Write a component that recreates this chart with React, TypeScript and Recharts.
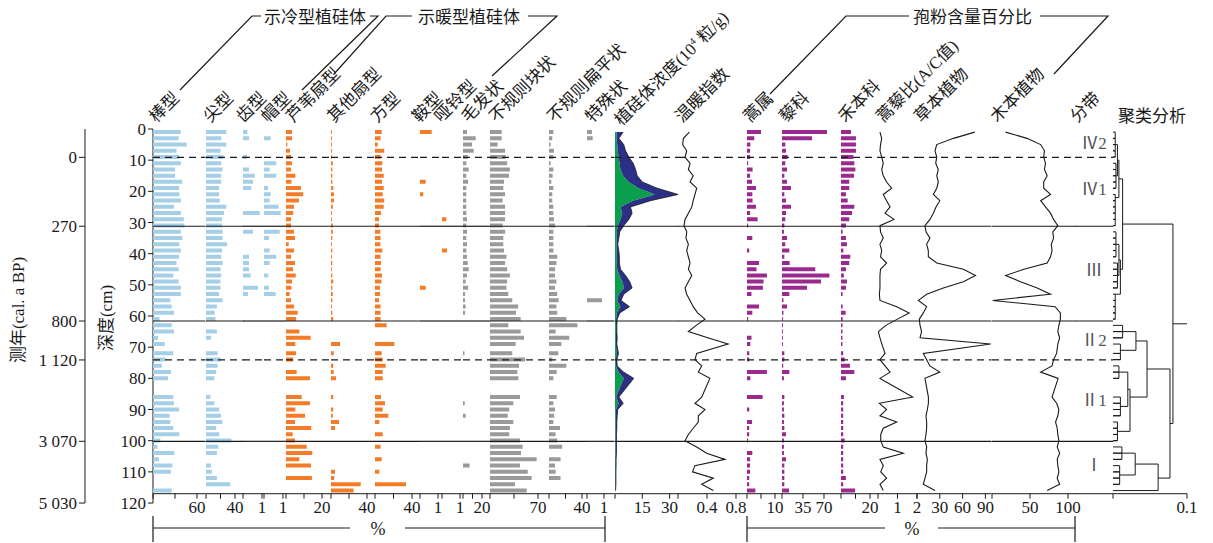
import React from 'react';
import { ComposedChart, Bar, Line, Area, Scatter, XAxis, YAxis, ReferenceLine } from 'recharts';

// sample depths (cm)
const depths = [1, 3, 5, 7, 9, 11, 13, 15, 17, 19, 21, 23, 25, 27, 29, 31, 33, 35, 37, 39, 41, 43, 45, 47, 49, 51, 53, 55, 57, 59, 61, 63, 65, 67, 69, 72, 74, 76, 78, 80, 86, 88, 90, 92, 94, 96, 98, 100, 102, 104, 106, 108, 110, 112, 114, 116];

// phytolith percentages
const rod = [37.8, 35, 46, 32, 36, 38, 30, 30, 40, 35.5, 36, 38, 28.6, 38, 42, 43, 38, 40, 36, 38, 35.5, 32, 35, 27.6, 35, 38, 38, 23.7, 25.5, 28.6, 9, 25.5, 28.6, 7, 16, 27.6, 17, 12, 24.5, 20.5, 27.6, 28.6, 35.5, 22.7, 23.7, 27.6, 36, 10, 6, 29, 8, 26.5, 24.5, 0, 0, 25.5];
const pointed = [28, 21, 28, 20, 24, 21, 23, 21, 21, 18, 18, 19, 28, 25, 22, 22, 23, 23, 29, 22, 21, 23, 20, 21, 20, 20, 18, 23, 15, 12, 13, 0, 15, 7, 0, 16, 20, 16, 14, 11.5, 6, 11.5, 18.3, 20.7, 22.5, 14, 18.3, 35, 17, 15, 0, 7, 8, 15, 33.5, 0];
const tooth = [6, 8.2, 0, 0, 5.5, 0, 8.2, 16, 13.7, 11.5, 0, 0, 0, 22.9, 0, 0, 13.7, 0, 0, 0, 8.2, 8.2, 8.2, 10.5, 0, 20.5, 6.8, 0, 0, 0, 0, 0, 0, 0, 0, 0, 0, 0, 0, 0, 0, 0, 0, 0, 0, 0, 0, 0, 0, 0, 0, 0, 0, 0, 0, 0];
const hat = [0, 9.2, 0, 0, 0, 16.8, 7.8, 16.8, 0, 5.5, 9.2, 7.8, 20, 22.9, 0, 0, 21.5, 6.8, 0, 7.8, 16.8, 7.8, 0, 5.9, 0, 6.8, 16, 0, 0, 0, 0, 0, 0, 0, 0, 0, 0, 0, 0, 0, 0, 0, 0, 0, 0, 0, 0, 0, 0, 0, 0, 0, 0, 0, 0, 0];
const reedFan = [3.3, 3.3, 0.7, 2.2, 2.8, 3.3, 2.8, 5.2, 3, 8.3, 9.6, 7.2, 4.4, 4, 2.8, 2.8, 4.4, 5, 1.5, 4.4, 2.8, 5, 3.9, 5.4, 3.3, 3, 2, 2.8, 4.4, 6.5, 5.6, 0, 7.4, 13.7, 5.2, 5.6, 4, 0, 5.9, 13.3, 8.7, 13.3, 5.2, 10.6, 5, 14, 3.7, 5, 11.5, 14.6, 7.4, 13.9, 0, 14.4, 0, 0];
const otherFan = [1, 1, 1, 1, 1, 2, 1.5, 1.5, 1.5, 2.6, 3.3, 3.3, 2, 1, 1, 2, 2, 1.5, 1, 1.5, 1, 1.5, 1, 1.5, 2.5, 1.5, 2, 1.5, 1, 1.5, 2.5, 0, 0, 0, 10, 3, 0, 2.5, 3, 5.5, 2.5, 0, 2.5, 2, 9, 4.4, 0, 0, 0, 0, 0, 0, 4.4, 3.5, 33, 25];
const square = [7.2, 6, 2.9, 10, 6, 7.9, 7.6, 9.4, 7.6, 9.4, 8.3, 10, 9.4, 6.5, 4.3, 4.3, 5.8, 6, 5.8, 7.9, 6, 6.5, 6, 7.6, 7, 5.4, 5.4, 4.3, 6, 6, 6, 12.6, 0, 0, 21, 7.2, 8.3, 11.5, 8.3, 8.3, 6.5, 10.8, 8.3, 14.4, 4.7, 0, 8.3, 0, 6, 0, 7.2, 0, 4.7, 0, 33.5, 0];
const saddle = [16, 0, 0, 0, 0, 0, 0, 0, 7.8, 0, 4.5, 0, 0, 0, 0, 0, 0, 0, 0, 0, 0, 0, 0, 0, 0, 7.8, 0, 0, 0, 0, 0, 0, 0, 0, 0, 0, 0, 0, 0, 0, 0, 0, 0, 0, 0, 0, 0, 0, 0, 0, 0, 0, 0, 0, 0, 0];
const dumbbell = [0, 0, 0, 0, 0, 0, 0, 0, 0, 0, 0, 0, 0, 0, 6, 0, 0, 0, 0, 6.8, 0, 0, 0, 0, 0, 0, 0, 0, 0, 0, 0, 0, 0, 0, 0, 0, 0, 0, 0, 0, 0, 0, 0, 0, 0, 0, 0, 0, 0, 0, 0, 0, 0, 0, 0, 0];
const hair = [4.2, 13.4, 9.5, 11.3, 5, 3.5, 6, 3.5, 5.4, 3.5, 3.5, 3.5, 3.5, 3.5, 4.2, 3.5, 4.2, 3.5, 4.2, 3.5, 4.2, 5, 6, 4.2, 2.8, 5.4, 2.2, 2.2, 2.8, 2.2, 0, 0, 0, 0, 0, 1.5, 0, 0, 0, 0, 0, 1.8, 0, 2.8, 0, 0, 0, 0, 0, 0, 0, 7, 0, 0, 0, 0];
const blocky = [17, 17, 11, 22, 23, 25, 29, 27.7, 20.4, 19.4, 22, 18.5, 22, 22, 22, 18.5, 22, 19.4, 19.4, 20.4, 24, 22, 25, 29, 25, 24, 26.7, 32.5, 41, 37.9, 44.7, 26.7, 44.7, 49.6, 37.4, 32.5, 51, 42.3, 39.8, 41.3, 43.7, 34, 28, 25.7, 34, 29, 28, 43.7, 47.6, 45.2, 68, 43.7, 55, 60.7, 36.4, 53.5];
const flat = [5.3, 4, 2, 6, 5.3, 2, 5.3, 4.4, 2.8, 5.3, 4, 4, 5.3, 5.3, 6, 7.3, 5.3, 5.3, 5.3, 5.3, 10, 9, 7.3, 7.3, 9, 7.3, 10, 11.7, 9, 10, 21, 34.4, 8, 24.6, 15, 11.3, 4, 21, 9.3, 5.3, 9.3, 5.3, 7.3, 6.3, 5.3, 13.3, 8, 10, 16, 0, 14, 7.3, 8, 14, 0, 0];
const special = [6.8, 7.8, 0, 0, 0, 0, 0, 0, 0, 0, 0, 0, 0, 0, 0, 0, 0, 0, 0, 0, 0, 0, 0, 0, 0, 0, 0, 20.5, 0, 0, 0, 0, 0, 0, 0, 0, 0, 0, 0, 0, 0, 0, 0, 0, 0, 0, 0, 0, 0, 0, 0, 0, 0, 0, 0, 0];

// phytolith concentration (10^4 grains/g)
const concTotal = [4.5, 2.1, 4.8, 5.8, 7.6, 10, 11.3, 12.2, 15, 23.2, 34.7, 19.5, 8.5, 9.4, 7.6, 4.8, 2.6, 2.1, 1.5, 2.1, 2.4, 2.4, 3, 5.8, 8.1, 9.4, 4.8, 3.3, 8, 2.6, 1.2, 1, 1, 1.2, 1, 1.9, 1, 1.2, 4.8, 10.3, 2.1, 4.5, 1.5, 1.2, 1, 1, 0.8, 0.8, 0.8, 0.8, 0.6, 0.6, 0.5, 0.5, 0.5, 0.3];
const concGreen = [1, 0.8, 1.2, 1.5, 2, 2.5, 3, 4.5, 7.5, 13, 22, 10, 3, 4, 3, 1.5, 1, 1, 0.8, 1, 1, 1, 1.2, 2.5, 4, 5, 2, 1.2, 3, 1, 0.6, 0.5, 0.5, 0.5, 0.5, 0.8, 0.5, 0.5, 2, 4.8, 0.6, 2, 0.5, 0.4, 0.4, 0.4, 0.3, 0.3, 0.3, 0.3, 0.3, 0.3, 0.3, 0.3, 0.3, 0.2];
const warmIndex = [0.157, 0.074, 0.064, 0.12, 0.097, 0.166, 0.143, 0.21, 0.166, 0.258, 0.234, 0.21, 0.19, 0.143, 0.097, 0.083, 0.12, 0.11, 0.143, 0.12, 0.143, 0.166, 0.143, 0.19, 0.143, 0.097, 0.12, 0.166, 0.21, 0.27, 0.372, 0.25, 0.143, 0.41, 0.69, 0.258, 0.234, 0.327, 0.28, 0.44, 0.327, 0.234, 0.372, 0.28, 0.28, 0.21, 0.143, 0.097, 0.258, 0.395, 0.648, 0.234, 0.2, 0.487, 0.327, 0.487];

// pollen percentages
const artemisia = [5, 2.6, 1.2, 1.1, 1.1, 0.4, 2, 1.1, 1.8, 3.2, 1.9, 2, 3.2, 1.1, 3.8, 0.4, 0, 1.9, 0, 0.8, 0, 4.3, 3.4, 7.1, 5.9, 5.7, 1.6, 0, 4.3, 1.9, 0.4, 0, 0, 1.6, 1.2, 0.8, 0.8, 0, 7.1, 1.2, 5.6, 0, 0.8, 0, 1.8, 0.8, 0.8, 0.4, 0, 1.9, 1.1, 1.1, 1.1, 0.8, 0.8, 3];
const chenopod = [75, 50, 5.5, 6.7, 9.4, 5.5, 8.3, 3.9, 8.3, 15, 3.9, 6.7, 15, 6.7, 5.5, 3.9, 3.2, 8.3, 5.5, 12.2, 3.9, 12.8, 55.5, 79, 65, 41.7, 12.2, 2.4, 8.3, 2.4, 1.5, 1.5, 1.5, 1.5, 1.5, 3.9, 3.9, 2, 12.2, 3.2, 3.9, 3.2, 3.2, 3.9, 3.2, 3.9, 6.7, 3.2, 3.2, 3.2, 6.7, 3.9, 3.9, 3.9, 3.9, 11.7];
const poaceae = [6.9, 10.3, 10.3, 10.3, 8.5, 9.2, 9.9, 9, 5.7, 5.7, 3.4, 4.6, 9.2, 7.6, 5.7, 3.4, 1.1, 3.4, 4.1, 1.6, 6.4, 5.7, 3.4, 2, 4.1, 3.4, 1.1, 0, 1.1, 3.2, 1.1, 1, 1, 1, 1, 1.5, 2.5, 6.2, 9.2, 3.4, 2, 1.5, 1.5, 1.5, 1.5, 1.5, 1.5, 2.5, 1.5, 1.5, 1.5, 1.5, 1.5, 3.4, 1.5, 9.7];
const acRatio = [0.1, 0.19, 0.13, 0.1, 0.19, 0.27, 0.19, 0.27, 0.44, 0.7, 0.27, 0.44, 0.62, 0.36, 0.82, 0.1, 0.13, 0.27, 0.1, 0.19, 0.13, 0.44, 0.13, 0.1, 0.1, 0.1, 0.07, 0.1, 0.96, 1.6, 1.0, 0.4, 0.02, 0.1, 0.2, 0.36, 0.1, 0.36, 0.62, 0.1, 1.78, 0.07, 0.44, 0.1, 0.96, 0.27, 0.14, 0.14, 0.27, 1.3, 0.1, 0.27, 0.14, 0.44, 0.1, 0.27];
const herbs = [76, 48, 26, 23.7, 26, 24.6, 28, 26, 28, 26, 21.5, 30, 25, 21.5, 17, 10.5, 11.8, 17, 12.7, 14.9, 14.9, 26, 61, 77, 61, 34.6, 12.7, 1.8, 12.7, 8.3, 3, 4, 6, 4, 97, 8.3, 12.7, 17, 30, 10.5, 15, 15, 13.6, 11.8, 12.7, 12.7, 11.8, 10.5, 12.7, 11.8, 13.6, 12.7, 12.7, 10.5, 8.3, 23.7];
const woody = [17.8, 46, 64, 69, 68, 70.4, 69, 72.6, 68, 68, 77, 64, 70.4, 77, 81, 86.6, 80, 81, 78, 79, 77, 72.6, 42, 18, 37.5, 59.5, 77, 1, 83, 90, 90, 88, 86.6, 89, 86.6, 85, 81, 79, 64, 87, 79, 85, 88, 86.6, 83.6, 85.8, 86.6, 88, 85.8, 89, 85.8, 86.6, 88, 85.8, 89, 72.6];

// zones and dating
const dashedZoneDepths = [9.1, 74.1];
const solidZoneDepths = [31.2, 61.6, 100.2];
const zoneLabels = [
  { name: 'Ⅳ2', depth: 4.6, x: 0.5 },
  { name: 'Ⅳ1', depth: 19.5, x: 0.5 },
  { name: 'Ⅲ', depth: 45.5, x: 0.5 },
  { name: 'Ⅱ2', depth: 68, x: 0.5 },
  { name: 'Ⅱ1', depth: 87, x: 0.5 },
  { name: 'Ⅰ', depth: 108, x: 0.5 },
];
const ageDepths = [9.1, 31.2, 61.6, 74.1, 100.2, 120];
const ageLabels = ['0', '270', '800', '1 120', '3 070', '5 030'];
const depthTicks = [0, 10, 20, 30, 40, 50, 60, 70, 80, 90, 100, 110, 120];

// cluster analysis: leaf groups [top, bottom, height], joins [depthA, hA, depthB, hB, height]
const clusterGroups = [
  [1, 9, 0.003], [11, 19, 0.004], [21, 31, 0.003], [33, 41, 0.004], [43, 51, 0.006], [53, 61, 0.003],
  [63, 67, 0.013], [69, 74, 0.01], [76, 80, 0.008], [86, 92, 0.01], [94, 100, 0.006],
  [102, 106, 0.012], [108, 114, 0.009],
];
const clusterJoins = [
  [5, 0.003, 15, 0.004, 0.006],
  [10, 0.006, 22, 0.003, 0.008],
  [37, 0.004, 47, 0.006, 0.008],
  [42, 0.008, 53, 0.003, 0.01],
  [16, 0.008, 45, 0.01, 0.013],
  [65, 0.013, 71, 0.01, 0.031],
  [78, 0.008, 89, 0.01, 0.02],
  [83.5, 0.02, 97, 0.006, 0.023],
  [68, 0.031, 86, 0.023, 0.046],
  [104, 0.012, 111, 0.009, 0.03],
  [107.5, 0.03, 116, 0, 0.061],
  [77, 0.046, 112, 0.061, 0.077],
  [30.5, 0.013, 94.5, 0.077, 0.081],
];
const clusterRoot = [62.5, 0.081, 0.1];

const rows = depths.map((depth, i) => ({
  depth,
  rod: rod[i], pointed: pointed[i], tooth: tooth[i], hat: hat[i], reedFan: reedFan[i],
  otherFan: otherFan[i], square: square[i], saddle: saddle[i], dumbbell: dumbbell[i], hair: hair[i],
  blocky: blocky[i], flat: flat[i], special: special[i],
  concGreen: concGreen[i], concBlue: +(concTotal[i] - concGreen[i]).toFixed(2),
  warmIndex: warmIndex[i], artemisia: artemisia[i], chenopod: chenopod[i], poaceae: poaceae[i],
  acRatio: acRatio[i], herbs: herbs[i], woody: woody[i],
}));

const groupPaths = clusterGroups.map(([top, bottom, h]) =>
  depths.filter((d) => d >= top && d <= bottom).flatMap((d, i) =>
    i === 0 ? [{ depth: d, h: 0 }, { depth: d, h }] : [{ depth: d, h }, { depth: d, h: 0 }, { depth: d, h }]));
const joinPaths = clusterJoins.map(([dA, hA, dB, hB, h]) => [
  { depth: dA, h: hA }, { depth: dA, h }, { depth: dB, h }, { depth: dB, h: hB },
]);
const rootPath = [{ depth: clusterRoot[0], h: clusterRoot[1] }, { depth: clusterRoot[0], h: clusterRoot[2] }];

const TOP = 128.6;
const CM = 3.117;
const DEPTH_MAX = 117;
const PLOT_H = DEPTH_MAX * CM;
const PAD_X = 16;
const PAD_T = 12;
const PAD_B = 34;
const FONT = '"Liberation Serif", "Times New Roman", "Noto Sans CJK SC", serif';
const INK = '#1a1a1a';
const BLUE = '#a4cfe7';
const ORANGE = '#f47b28';
const GREY = '#9a9a9a';
const PURPLE = '#9b2a8e';

type PanelProps = {
  left: number;
  right: number;
  scale: number;
  ticks?: number[];
  labels?: string[];
  xKey?: string;
  zones?: boolean;
  children?: React.ReactNode;
};

function Panel({ left, right, scale, ticks = [], labels = [], xKey, zones = true, children }: PanelProps) {
  const w = right - left;
  const max = w / scale;
  return (
    <div style={{ position: 'absolute', left: left - PAD_X, top: TOP - PAD_T }}>
      <ComposedChart
        layout="vertical"
        width={w + PAD_X * 2}
        height={PLOT_H + PAD_T + PAD_B}
        data={rows}
        margin={{ top: PAD_T, right: PAD_X, bottom: 0, left: PAD_X }}
      >
        <XAxis
          type="number"
          dataKey={xKey}
          domain={[0, max]}
          ticks={ticks}
          interval={0}
          allowDataOverflow
          height={PAD_B}
          tickSize={5}
          tickFormatter={(v: number) => labels[ticks.indexOf(v)] ?? ''}
          tick={{ fill: INK, fontSize: 17, fontFamily: FONT }}
          tickLine={{ stroke: INK }}
          axisLine={{ stroke: INK }}
        />
        <XAxis
          xAxisId="top"
          orientation="top"
          type="number"
          domain={[0, max]}
          ticks={ticks}
          interval={0}
          allowDataOverflow
          height={0}
          tickSize={4}
          tick={false}
          tickLine={{ stroke: INK }}
          axisLine={{ stroke: INK, strokeWidth: 1.6 }}
        />
        <YAxis
          type="number"
          dataKey="depth"
          domain={[0, DEPTH_MAX]}
          allowDataOverflow
          width={0}
          tick={false}
          tickLine={false}
          axisLine={{ stroke: INK }}
        />
        <Line xAxisId="top" dataKey="depth" stroke="none" dot={false} legendType="none" isAnimationActive={false} />
        {children}
        {zones && solidZoneDepths.map((d) => (
          <ReferenceLine key={`s${d}`} y={d} stroke={INK} strokeWidth={1.2} />
        ))}
        {zones && dashedZoneDepths.map((d) => (
          <ReferenceLine key={`d${d}`} y={d} stroke={INK} strokeWidth={1.2} strokeDasharray="7 5" />
        ))}
      </ComposedChart>
    </div>
  );
}

const bar = (key: string, color: string) => (
  <Bar dataKey={key} fill={color} barSize={4} isAnimationActive={false} />
);
const curve = (key: string) => (
  <Line dataKey={key} type="linear" stroke={INK} strokeWidth={1.1} dot={false} isAnimationActive={false} />
);

const headerLabels: [string, number][] = [
  ['棒型', 159], ['尖型', 213], ['齿型', 246], ['帽型', 271], ['芦苇扇型', 296], ['其他扇型', 337],
  ['方型', 380], ['鞍型', 422], ['哑铃型', 444], ['毛发状', 471], ['不规则块状', 499],
  ['不规则扁平状', 557], ['特殊状', 595], ['温暖指数', 685], ['蒿属', 753], ['藜科', 789],
  ['禾本科', 848], ['蒿藜比(A/C值)', 886], ['草本植物', 924], ['木本植物', 1000], ['分带', 1080],
];

const rotated = (x: number, content: React.ReactNode, key: string) => (
  <div
    key={key}
    style={{
      position: 'absolute', left: x, top: 126 - 18, height: 18, lineHeight: '18px', fontSize: 17,
      fontFamily: FONT, color: INK, whiteSpace: 'nowrap', transformOrigin: '0 100%', transform: 'rotate(-45deg)',
    }}
  >
    {content}
  </div>
);

export default function App() {
  return (
    <div style={{ position: 'absolute', left: 0, top: 0, width: 1213, height: 543, background: '#fff', overflow: 'hidden', fontFamily: FONT }}>
      {/* age axis */}
      <div style={{ position: 'absolute', left: 0, top: TOP - PAD_T }}>
        <ComposedChart width={89} height={120 * CM + PAD_T + 14} data={rows} margin={{ top: PAD_T, right: 2, bottom: 14, left: 0 }}>
          <XAxis dataKey="depth" hide />
          <YAxis
            type="number" domain={[0, 120]} reversed width={85} ticks={ageDepths} interval={0} tickSize={6}
            tickFormatter={(v: number) => ageLabels[ageDepths.indexOf(v)] ?? ''}
            tick={{ fill: INK, fontSize: 17, fontFamily: FONT }} tickLine={{ stroke: INK }} axisLine={{ stroke: INK }}
          />
          <Line dataKey="depth" stroke="none" dot={false} isAnimationActive={false} />
        </ComposedChart>
      </div>
      {/* depth axis */}
      <div style={{ position: 'absolute', left: 0, top: TOP - PAD_T }}>
        <ComposedChart width={157} height={120 * CM + PAD_T + 14} data={rows} margin={{ top: PAD_T, right: 2, bottom: 14, left: 0 }}>
          <XAxis dataKey="depth" hide />
          <YAxis
            type="number" domain={[0, 120]} reversed width={153} ticks={depthTicks} interval={0} tickSize={5}
            tick={{ fill: INK, fontSize: 17, fontFamily: FONT }} tickLine={{ stroke: INK }} axisLine={{ stroke: INK }}
          />
          <Line dataKey="depth" stroke="none" dot={false} isAnimationActive={false} />
        </ComposedChart>
      </div>
      <div style={{ position: 'absolute', left: 16, top: 310, transform: 'translate(-50%, -50%) rotate(-90deg)', fontSize: 17, whiteSpace: 'nowrap', color: INK }}>
        测年(cal. a BP)
      </div>
      <div style={{ position: 'absolute', left: 104, top: 318, transform: 'translate(-50%, -50%) rotate(-90deg)', fontSize: 17, whiteSpace: 'nowrap', color: INK }}>
        深度(cm)
      </div>

      <Panel left={153} right={205.5} scale={0.733} ticks={[0, 30, 60]} labels={['', '', '60']}>{bar('rod', BLUE)}</Panel>
      <Panel left={205.5} right={243} scale={0.725} ticks={[0, 20, 40]} labels={['', '', '40']}>{bar('pointed', BLUE)}</Panel>
      <Panel left={243} right={264} scale={0.73} ticks={[0, 26]} labels={['', '1']}>{bar('tooth', BLUE)}</Panel>
      <Panel left={264} right={286} scale={0.73} ticks={[0, 26]} labels={['', '1']}>{bar('hat', BLUE)}</Panel>
      <Panel left={286} right={331} scale={1.8} ticks={[0, 10, 20]} labels={['', '', '20']}>{bar('reedFan', ORANGE)}</Panel>
      <Panel left={331} right={375} scale={0.9} ticks={[0, 20, 40]} labels={['', '', '40']}>{bar('otherFan', ORANGE)}</Panel>
      <Panel left={375} right={420} scale={0.925} ticks={[0, 20, 40]} labels={['', '', '40']}>{bar('square', ORANGE)}</Panel>
      <Panel left={420} right={442} scale={0.73} ticks={[0, 24.7]} labels={['', '1']}>{bar('saddle', ORANGE)}</Panel>
      <Panel left={442} right={463} scale={0.73} ticks={[0, 24.7]} labels={['', '1']}>{bar('dumbbell', ORANGE)}</Panel>
      <Panel left={463} right={490} scale={0.95} ticks={[0, 10, 20]} labels={['', '', '20']}>{bar('hair', GREY)}</Panel>
      <Panel left={490} right={549} scale={0.686} ticks={[0, 35, 70]} labels={['', '', '70']}>{bar('blocky', GREY)}</Panel>
      <Panel left={549} right={587} scale={0.825} ticks={[0, 20, 40]} labels={['', '', '40']}>{bar('flat', GREY)}</Panel>
      <Panel left={587} right={614.5} scale={0.73} ticks={[0, 23.3]} labels={['', '1']}>{bar('special', GREY)}</Panel>
      <Panel left={614.5} right={678} scale={1.82} ticks={[0, 15, 30]} labels={['', '15', '30']}>
        <Area dataKey="concGreen" stackId="c" type="linear" fill="#0a9f4c" fillOpacity={1} stroke="none" isAnimationActive={false} />
        <Area dataKey="concBlue" stackId="c" type="linear" fill="#2b2f86" fillOpacity={1} stroke={INK} strokeWidth={0.8} isAnimationActive={false} />
      </Panel>
      <Panel left={678} right={747} scale={72.5} ticks={[0, 0.4, 0.8]} labels={['', '0.4', '0.8']}>{curve('warmIndex')}</Panel>
      <Panel left={747} right={782} scale={2.8} ticks={[0, 5, 10]} labels={['', '', '10']}>{bar('artemisia', PURPLE)}</Panel>
      <Panel left={782} right={841} scale={0.6} ticks={[0, 35, 70]} labels={['', '35', '70']}>{bar('chenopod', PURPLE)}</Panel>
      <Panel left={841} right={878} scale={1.45} ticks={[0, 10, 20]} labels={['', '', '20']}>{bar('poaceae', PURPLE)}</Panel>
      <Panel left={878} right={917} scale={19.5} ticks={[0, 1, 2]} labels={['', '1', '2']}>{curve('acRatio')}</Panel>
      <Panel left={917} right={991.5} scale={0.76} ticks={[0, 30, 60, 90]} labels={['', '30', '60', '90']}>{curve('herbs')}</Panel>
      <Panel left={991.5} right={1075} scale={0.76} ticks={[0, 50, 100]} labels={['', '50', '100']}>{curve('woody')}</Panel>
      <Panel left={1075} right={1113} scale={38} xKey="x">
        <Scatter
          data={zoneLabels}
          dataKey="depth"
          isAnimationActive={false}
          shape={(p: any) => (
            <text x={p.cx} y={p.cy} textAnchor="middle" dominantBaseline="central" fontSize={17} fontFamily={FONT} fill="#555">
              {p.payload.name}
            </text>
          )}
        />
      </Panel>
      <Panel left={1113} right={1187} scale={740} ticks={[0, 0.1]} labels={['', '0.1']} zones={false}>
        {groupPaths.map((pts, i) => (
          <Line key={`g${i}`} data={pts} dataKey="h" type="linear" stroke={INK} strokeWidth={1} dot={false} isAnimationActive={false} />
        ))}
        {joinPaths.map((pts, i) => (
          <Line key={`j${i}`} data={pts} dataKey="h" type="linear" stroke={INK} strokeWidth={1} dot={false} isAnimationActive={false} />
        ))}
        <Line data={rootPath} dataKey="h" type="linear" stroke={INK} strokeWidth={1} dot={false} isAnimationActive={false} />
      </Panel>

      {/* column titles */}
      {headerLabels.map(([t, x]) => rotated(x, t, t))}
      {rotated(621, <>植硅体浓度(10<sup style={{ fontSize: 10 }}>4</sup> 粒/g)</>, 'conc')}
      <div style={{ position: 'absolute', left: 1118, top: 102, fontSize: 17, color: INK, whiteSpace: 'nowrap' }}>聚类分析</div>

      {/* group headers */}
      <svg width={1213} height={130} style={{ position: 'absolute', left: 0, top: 0 }}>
        <g stroke={INK} strokeWidth={1.2} fill="none">
          <polyline points="180,90 252,16 261,16" />
          <polyline points="370,16 378,16 302,90" />
          <polyline points="334,74 386,16 412,16" />
          <polyline points="528,16 557,16 492,76" />
          <polyline points="770,94 846,16 909,16" />
          <polyline points="1040,16 1108,16 1054,74" />
        </g>
        <g fill={INK} fontSize={17} fontFamily={FONT}>
          <text x={264} y={23}>示冷型植硅体</text>
          <text x={418} y={23}>示暖型植硅体</text>
          <text x={913} y={23}>孢粉含量百分比</text>
        </g>
      </svg>

      {/* percent brackets */}
      <svg width={1213} height={60} style={{ position: 'absolute', left: 0, top: 490 }}>
        <g stroke={INK} strokeWidth={1.2} fill="none">
          <line x1={153} y1={26} x2={153} y2={52} />
          <line x1={153} y1={38} x2={350} y2={38} />
          <line x1={405} y1={38} x2={605} y2={38} />
          <line x1={605} y1={26} x2={605} y2={52} />
          <line x1={747} y1={26} x2={747} y2={52} />
          <line x1={747} y1={38} x2={885} y2={38} />
          <line x1={938} y1={38} x2={1075} y2={38} />
          <line x1={1075} y1={26} x2={1075} y2={52} />
        </g>
        <g fill={INK} fontSize={18} fontFamily={FONT} textAnchor="middle">
          <text x={378} y={45}>%</text>
          <text x={912} y={45}>%</text>
        </g>
      </svg>
    </div>
  );
}
